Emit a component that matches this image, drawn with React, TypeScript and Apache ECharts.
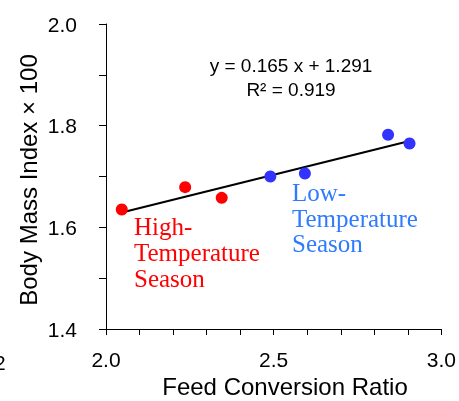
import React, { useEffect, useRef } from "react";
import * as echarts from "echarts";

const highTemp: [number, number][] = [
  [2.047, 1.635],
  [2.236, 1.679],
  [2.345, 1.658],
];
const lowTemp: [number, number][] = [
  [2.49, 1.7],
  [2.593, 1.706],
  [2.841, 1.782],
  [2.905, 1.765],
];
const trendLine: [number, number][] = [
  [2.047, 1.629],
  [2.905, 1.77],
];
const xLabelsShown = ["2.0", "2.5", "3.0"];
const yLabelsShown = ["1.4", "1.6", "1.8", "2.0"];
const equationText = "y = 0.165 x + 1.291";
const r2Text = "R² = 0.919";

const SANS = "'Liberation Sans', Arial, sans-serif";
const SERIF = "'Liberation Serif', 'Times New Roman', serif";

export default function App() {
  const ref = useRef<HTMLDivElement>(null);
  useEffect(() => {
    if (!ref.current) return;
    const chart = echarts.init(ref.current, undefined, { renderer: "svg" });
    chart.setOption({
      animation: false,
      grid: { left: 106, right: 16, top: 24, bottom: 72 },
      xAxis: {
        type: "value",
        min: 2.0,
        max: 3.0,
        interval: 0.1,
        splitLine: { show: false },
        axisLine: { show: true, lineStyle: { color: "#000", width: 1 } },
        axisTick: { show: true, inside: false, length: 6, lineStyle: { color: "#000" } },
        axisLabel: {
          margin: 20,
          fontFamily: SANS,
          fontSize: 21,
          color: "#000",
          formatter: (v: number) => {
            const s = v.toFixed(1);
            return xLabelsShown.includes(s) ? s : "";
          },
        },
      },
      yAxis: {
        type: "value",
        min: 1.4,
        max: 2.0,
        interval: 0.1,
        splitLine: { show: false },
        axisLine: { show: true, lineStyle: { color: "#000", width: 1 } },
        axisTick: { show: true, inside: false, length: 7, lineStyle: { color: "#000" } },
        axisLabel: {
          margin: 29,
          fontFamily: SANS,
          fontSize: 21,
          color: "#000",
          formatter: (v: number) => {
            const s = v.toFixed(1);
            return yLabelsShown.includes(s) ? s : "";
          },
        },
      },
      series: [
        {
          type: "line",
          data: trendLine,
          symbol: "none",
          lineStyle: { color: "#000", width: 2 },
          z: 1,
        },
        {
          type: "scatter",
          data: highTemp,
          symbolSize: 12,
          itemStyle: { color: "#FF0000", opacity: 1 },
          z: 2,
        },
        {
          type: "scatter",
          data: lowTemp,
          symbolSize: 12,
          itemStyle: { color: "#3333FF", opacity: 1 },
          z: 2,
        },
      ],
      graphic: [
        {
          type: "text",
          x: 285,
          y: 386,
          style: {
            text: "Feed Conversion Ratio",
            font: `24px ${SANS}`,
            fill: "#000",
            align: "center",
            verticalAlign: "middle",
          },
        },
        {
          type: "text",
          x: 28,
          y: 180,
          rotation: Math.PI / 2,
          style: {
            text: "Body Mass Index × 100",
            font: `24px ${SANS}`,
            fill: "#000",
            align: "center",
            verticalAlign: "middle",
          },
        },
        {
          type: "text",
          x: -6,
          y: 362,
          style: {
            text: "2",
            font: `21px ${SANS}`,
            fill: "#000",
            align: "left",
            verticalAlign: "middle",
          },
        },
        {
          type: "text",
          x: 291,
          y: 65,
          style: {
            text: equationText,
            font: `19px ${SANS}`,
            fill: "#000",
            align: "center",
            verticalAlign: "middle",
          },
        },
        {
          type: "text",
          x: 291,
          y: 89,
          style: {
            text: r2Text,
            font: `19px ${SANS}`,
            fill: "#000",
            align: "center",
            verticalAlign: "middle",
          },
        },
        {
          type: "text",
          x: 134,
          y: 213,
          style: {
            text: "High-\nTemperature\nSeason",
            font: `25px ${SERIF}`,
            lineHeight: 26,
            fill: "#FF0000",
            align: "left",
            verticalAlign: "top",
          },
        },
        {
          type: "text",
          x: 292,
          y: 180,
          style: {
            text: "Low-\nTemperature\nSeason",
            font: `25px ${SERIF}`,
            lineHeight: 25.5,
            fill: "#2F7BFF",
            align: "left",
            verticalAlign: "top",
          },
        },
      ],
    });
    return () => chart.dispose();
  }, []);
  return <div ref={ref} style={{ width: 459, height: 401, position: "fixed", left: 0, top: 0 }} />;
}
